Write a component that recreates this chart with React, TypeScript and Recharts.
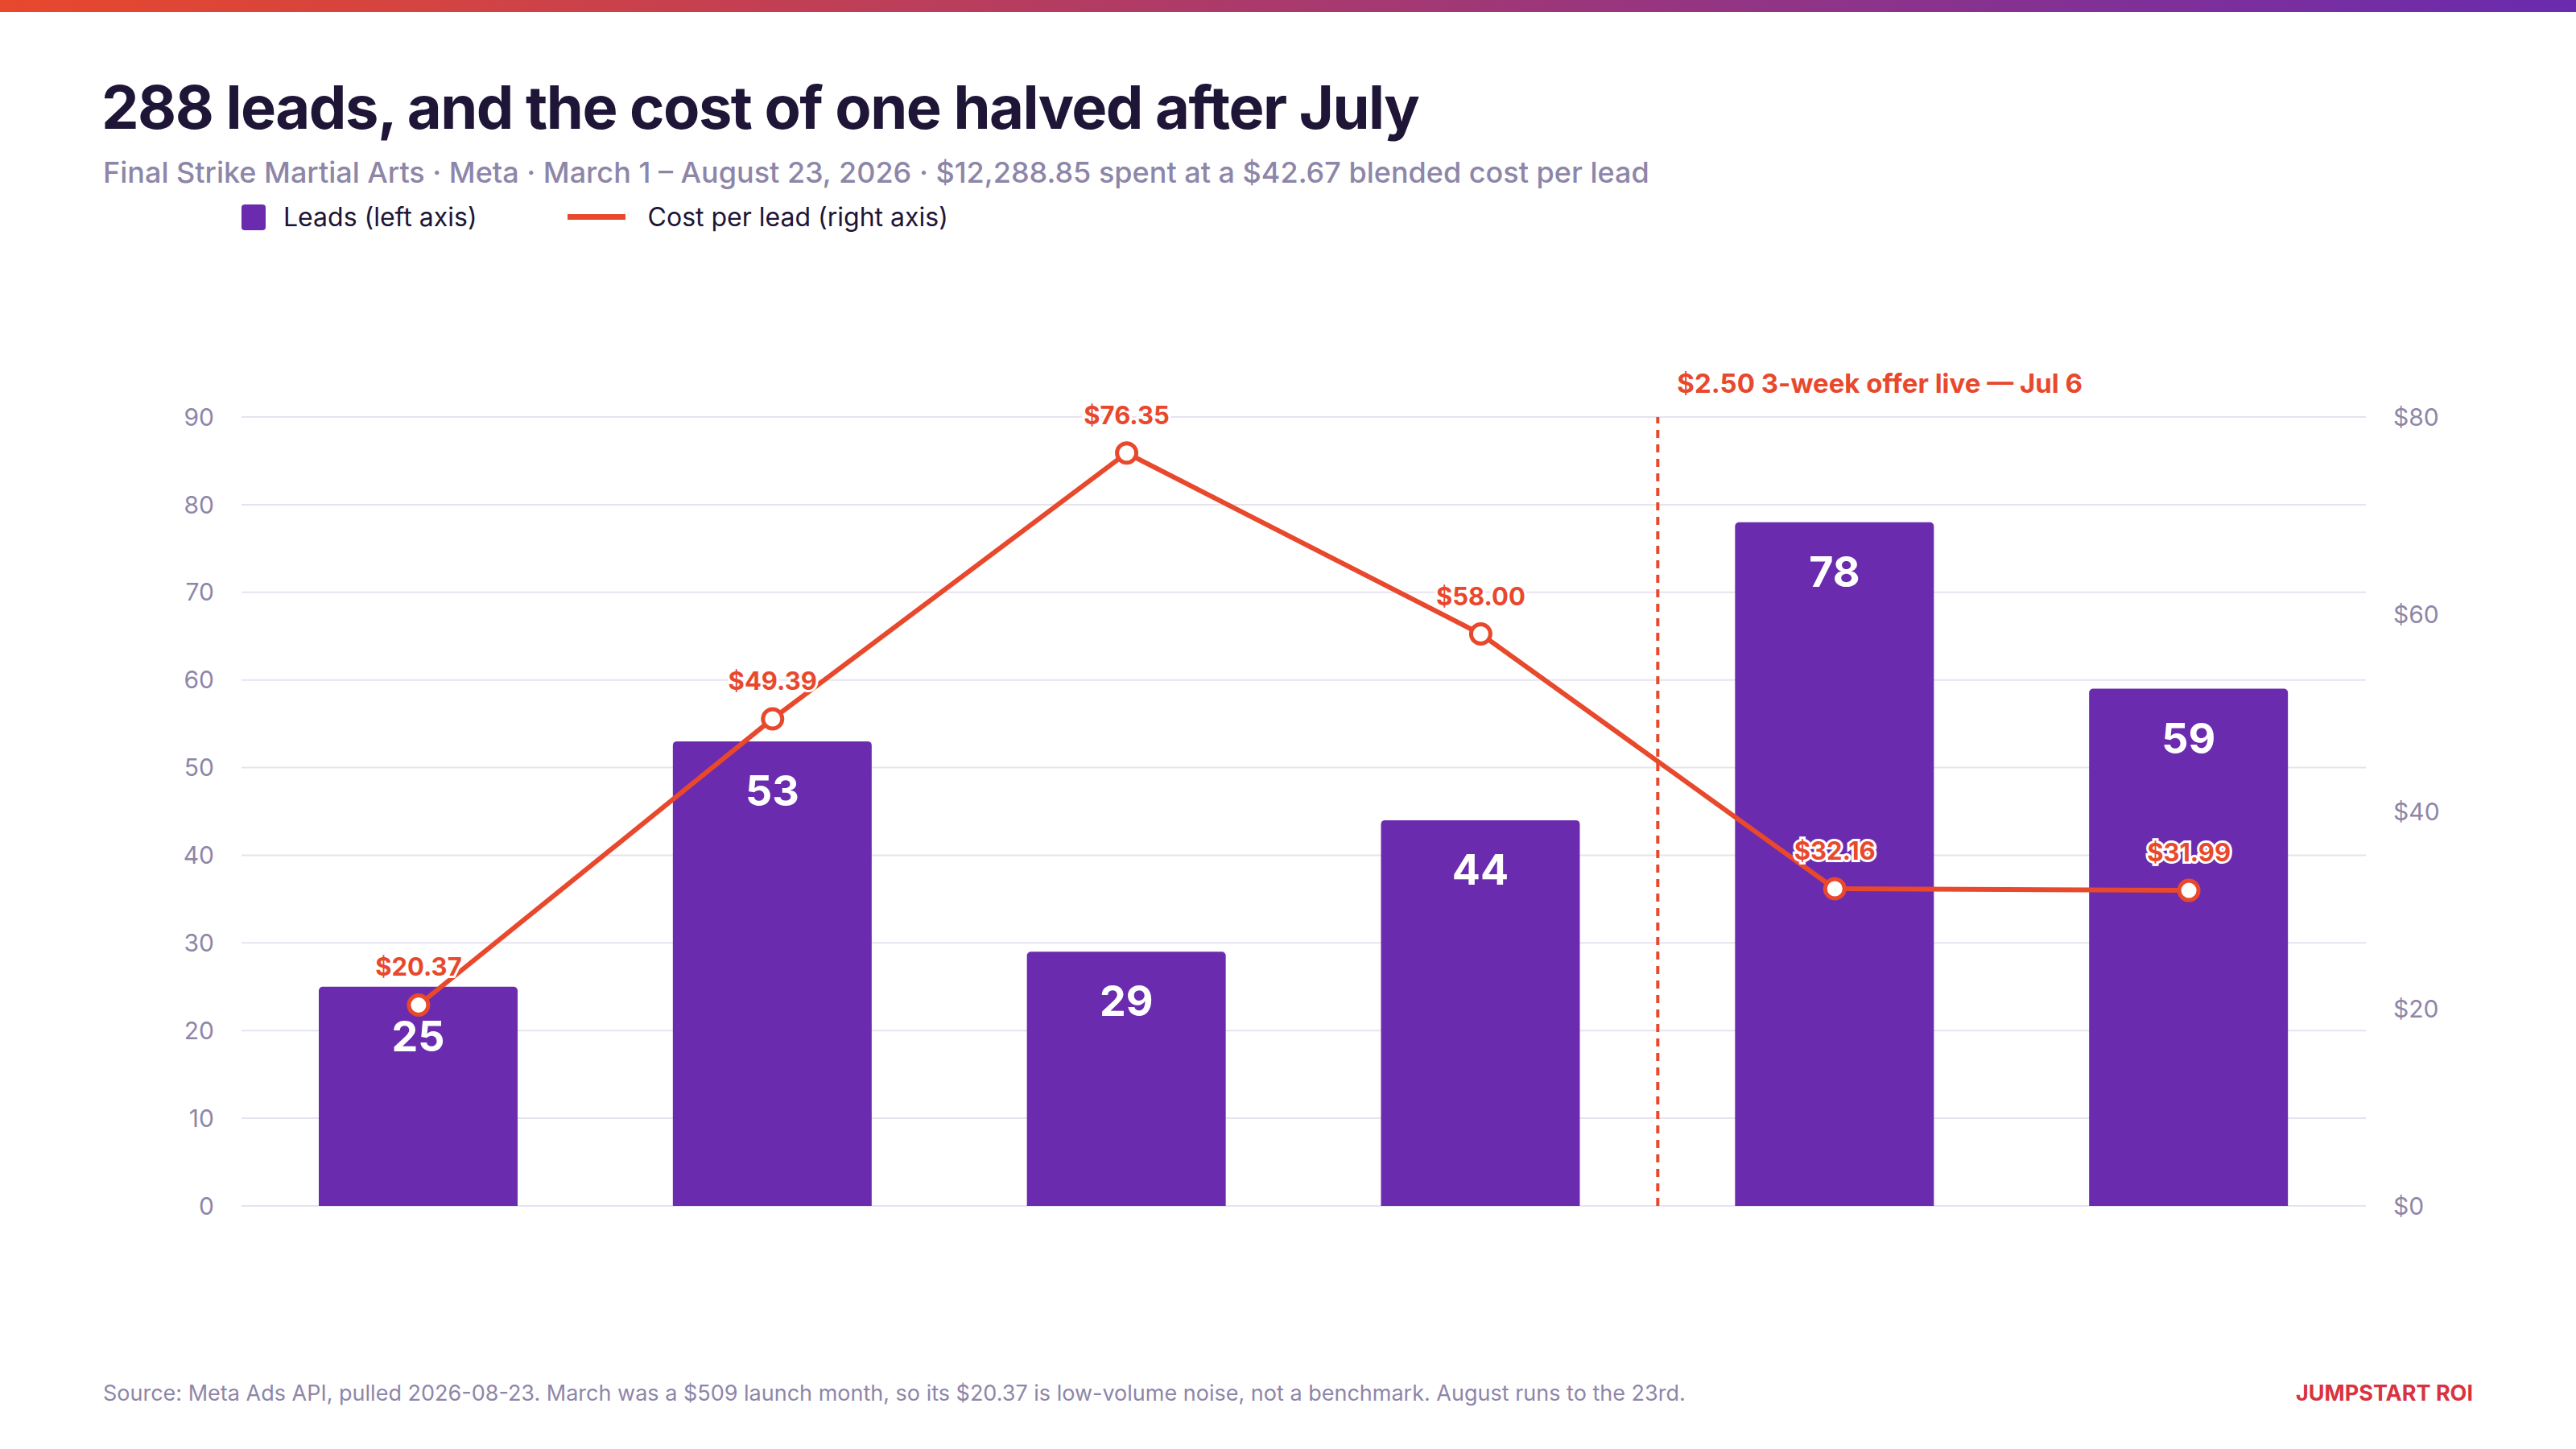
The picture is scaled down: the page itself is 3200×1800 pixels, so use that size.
import {
  ComposedChart,
  Bar,
  Line,
  XAxis,
  YAxis,
  CartesianGrid,
  ReferenceLine,
  LabelList,
} from "recharts";

const months = ["Mar", "Apr", "May", "Jun", "Jul", "Aug 1-23"];
const spend = ["$509", "$2,617", "$2,214", "$2,552", "$2,508", "$1,887"];
const leads = [25, 53, 29, 44, 78, 59];
const cpl = [20.37, 49.39, 76.35, 58.0, 32.16, 31.99];
const leftTicks = [0, 10, 20, 30, 40, 50, 60, 70, 80, 90];
const rightTicks = [0, 20, 40, 60, 80];

const data = months.map((m, i) => ({ idx: i, month: m, spend: spend[i], leads: leads[i], cpl: cpl[i] }));

const PURPLE = "#6a2bae";
const ORANGE = "#e8482c";
const INK = "#1e1537";
const MUTED = "#8e86a8";
const FONT = "Inter, 'Liberation Sans', sans-serif";

const MonthTick = (props: any) => {
  const { x, y, payload } = props;
  const i = payload.value;
  return (
    <g>
      <text x={x} y={y + 40} textAnchor="middle" fontSize={37} fontWeight={700} fill={INK} fontFamily={FONT}>
        {months[i]}
      </text>
      <text x={x} y={y + 88} textAnchor="middle" fontSize={28} fill={MUTED} fontFamily={FONT}>
        {spend[i]}
      </text>
    </g>
  );
};

const BarValue = (props: any) => {
  const { x, y, width, value } = props;
  return (
    <text x={x + width / 2} y={y + 61} dy={19} textAnchor="middle" fontSize={52} fontWeight={700} fill="#fff" fontFamily={FONT}>
      {value}
    </text>
  );
};

const CplValue = (props: any) => {
  const { x, y, value } = props;
  return (
    <text
      x={x}
      y={y - 36}
      textAnchor="middle"
      fontSize={31}
      fontWeight={700}
      fill={ORANGE}
      stroke="#fff"
      strokeWidth={6}
      paintOrder="stroke"
      fontFamily={FONT}
    >
      {"$" + Number(value).toFixed(2)}
    </text>
  );
};

export default function App() {
  return (
    <div style={{ position: "absolute", left: 0, top: 0, width: 3200, height: 1800, background: "#fff", fontFamily: FONT }}>
      <div style={{ height: 15, background: `linear-gradient(90deg, ${ORANGE}, ${PURPLE})` }} />
      <div style={{ position: "absolute", left: 126, top: 88, fontSize: 74, fontWeight: 700, color: INK, letterSpacing: -1.5 }}>
        288 leads, and the cost of one halved after July
      </div>
      <div style={{ position: "absolute", left: 128, top: 192, fontSize: 36, fontWeight: 500, color: MUTED }}>
        Final Strike Martial Arts · Meta · March 1 – August 23, 2026 · $12,288.85 spent at a $42.67 blended cost per lead
      </div>
      <div style={{ position: "absolute", left: 300, top: 250, fontSize: 32, color: INK, display: "flex", alignItems: "center" }}>
        <span style={{ width: 30, height: 32, borderRadius: 4, background: PURPLE, display: "inline-block", marginRight: 22 }} />
        Leads (left axis)
        <span style={{ width: 72, height: 7, background: ORANGE, display: "inline-block", marginLeft: 112, marginRight: 28 }} />
        Cost per lead (right axis)
      </div>
      <div style={{ position: "absolute", top: 0, left: 0 }}>
        <ComposedChart width={3200} height={1800} data={data} margin={{ top: 518, bottom: 302, left: 200, right: 161 }}>
          <CartesianGrid vertical={false} stroke="#e6e3ee" strokeWidth={2} yAxisId="l" />
          <XAxis
            dataKey="idx"
            type="number"
            domain={[-0.5, 5.5]}
            ticks={[0, 1, 2, 3, 4, 5]}
            tick={<MonthTick />}
            tickLine={false}
            axisLine={{ stroke: INK, strokeWidth: 3 }}
            height={0}
          />
          <YAxis
            yAxisId="l"
            domain={[0, 90]}
            ticks={leftTicks}
            width={100}
            axisLine={false}
            tickLine={false}
            tickMargin={28}
            tick={{ fill: MUTED, fontSize: 30, fontFamily: FONT }}
          />
          <YAxis
            yAxisId="r"
            orientation="right"
            domain={[0, 80]}
            ticks={rightTicks}
            width={100}
            axisLine={false}
            tickLine={false}
            tickMargin={28}
            tickFormatter={(v) => "$" + v}
            tick={{ fill: MUTED, fontSize: 30, fontFamily: FONT }}
          />
          <ReferenceLine
            yAxisId="l"
            x={3.5}
            stroke={ORANGE}
            strokeWidth={4}
            strokeDasharray="10 8"
            segment={[{ x: 3.5, y: 0 }, { x: 3.5, y: 96 }]}
            ifOverflow="visible"
            label={(p: any) => (
              <text x={p.viewBox.x + 24} y={488} fontSize={33} fontWeight={700} fill={ORANGE} fontFamily={FONT}>
                $2.50 3-week offer live — Jul 6
              </text>
            )}
          />
          <Bar yAxisId="l" dataKey="leads" fill={PURPLE} barSize={247} radius={[5, 5, 0, 0]} isAnimationActive={false}>
            <LabelList dataKey="leads" content={<BarValue />} />
          </Bar>
          <Line
            yAxisId="r"
            dataKey="cpl"
            type="linear"
            stroke={ORANGE}
            strokeWidth={6}
            dot={{ r: 12, fill: "#fff", stroke: ORANGE, strokeWidth: 5 }}
            isAnimationActive={false}
          >
            <LabelList dataKey="cpl" content={<CplValue />} />
          </Line>
        </ComposedChart>
      </div>
      <div style={{ position: "absolute", left: 128, top: 1714, fontSize: 27, color: MUTED }}>
        Source: Meta Ads API, pulled 2026-08-23. March was a $509 launch month, so its $20.37 is low-volume noise, not a benchmark. August runs to the 23rd.
      </div>
      <div style={{ position: "absolute", right: 128, top: 1714, fontSize: 27, fontWeight: 700, color: "#d8333f" }}>
        JUMPSTART ROI
      </div>
    </div>
  );
}
